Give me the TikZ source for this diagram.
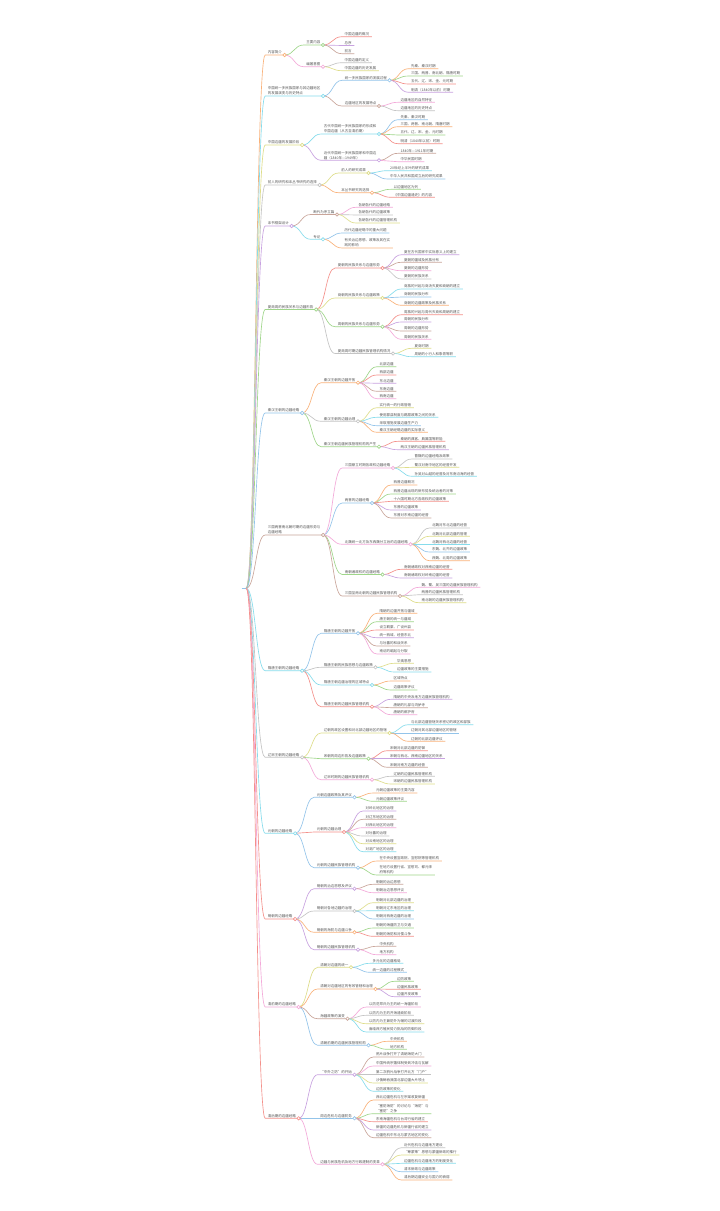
\documentclass[tikz,border=0pt]{standalone}
\usepackage{fontspec}
\newfontfamily\cjkf{Noto Sans CJK SC}
\definecolor{Cor}{HTML}{F9B27A}
\definecolor{Cgr}{HTML}{9FD68A}
\definecolor{Cre}{HTML}{F4908A}
\definecolor{Cpu}{HTML}{C8A2E0}
\definecolor{Cbr}{HTML}{C9A59A}
\definecolor{Cpi}{HTML}{F3A9D9}
\definecolor{Cgy}{HTML}{C4C4C4}
\definecolor{Cye}{HTML}{DEDD8A}
\definecolor{Ccy}{HTML}{86DCEC}
\definecolor{Cbl}{HTML}{93C4EA}
\definecolor{txt}{HTML}{555555}
\tikzset{
  mmn/.style={anchor=south west, inner xsep=2.5pt, inner ysep=0.7pt,
    font=\cjkf\fontsize{3.5pt}{5pt}\selectfont, text=txt, align=left},
  mme/.style={line width=0.65pt},
}
\newcommand\mm[5]{%
  \expandafter\def\csname mmc#1\endcsname{#4}%
  \path (#2.south east) ++(19,0) coordinate (mmtmp);
  \node[mmn] (#1) at (mmtmp |- 0,#3) {#5};
  \draw[mme,#4] (#2.south east) .. controls +(9.5,0) and +(-9.5,0) .. (#1.south west) -- (#1.south east);
}
\newcommand\mmdot[1]{%
  \edef\mmtmpc{\csname mmc#1\endcsname}%
  \draw[mme,color=\mmtmpc,fill=white] (#1.south east) circle (1.7);
}
\begin{document}
\begin{tikzpicture}[x=1pt,y=-1pt]
\fill[white] (0,0) rectangle (720,1211);
\useasboundingbox (0,0) rectangle (720,1211);
\node[inner sep=0pt,minimum size=0pt] (root) at (246,588) {};
\coordinate (rootstub) at (241.5,588);
\draw[mme,Cbl] (rootstub) -- (root.center);
% Group 1
\mm{a}{root}{55}{Cor}{内容简介}
\mm{a1}{a}{45}{Cgr}{主要内容}
\mm{a11}{a1}{36.7}{Cre}{中国边疆的概况}
\mm{a12}{a1}{45.5}{Cpu}{总序}
\mm{a13}{a1}{53.7}{Cbr}{前言}
\mm{a2}{a}{66.7}{Cpi}{编著意图}
\mm{a21}{a2}{62.7}{Cgy}{中国边疆的定义}
\mm{a22}{a2}{70.7}{Cye}{中国边疆的历史发展}
% Group 2
\mm{b}{root}{96}{Ccy}{中国统一多民族国家与其边疆地区\\的发展演变与历史特点}
\mm{b1}{b}{80.3}{Cbl}{统一多民族国家的发展过程}
\mm{b11}{b1}{68.7}{Cor}{先秦、秦汉时期}
\mm{b12}{b1}{76}{Cgr}{三国、两晋、南北朝、隋唐时期}
\mm{b13}{b1}{84}{Cre}{五代、辽、宋、金、元时期}
\mm{b14}{b1}{92.3}{Cpu}{明清（1840年以前）时期}
\mm{b2}{b}{106}{Cbr}{边疆地区的发展特点}
\mm{b21}{b2}{102.3}{Cpi}{边疆地区的自然特征}
\mm{b22}{b2}{110.7}{Cgy}{边疆地区的历史特点}
% Group 3
\mm{c}{root}{145}{Cye}{中国边疆的发展阶段}
\mm{c1}{c}{134}{Ccy}{古代中国统一多民族国家的形成和\\中国边疆（从古至清前期）}
\mm{c11}{c1}{119.7}{Cbl}{先秦、秦汉时期}
\mm{c12}{c1}{126.7}{Cor}{三国、两晋、南北朝、隋唐时期}
\mm{c13}{c1}{135}{Cgr}{五代、辽、宋、金、元时期}
\mm{c14}{c1}{143.7}{Cre}{明清（1840年以前）时期}
\mm{c2}{c}{160.3}{Cpu}{近代中国统一多民族国家和中国边\\疆（1840年—1949年）}
\mm{c21}{c2}{153.3}{Cbr}{1840年—1911年时期}
\mm{c22}{c2}{161.7}{Cpi}{中华民国时期}
% Group 4
\mm{d}{root}{185}{Cgy}{前人的研究和本丛书研究的选择}
\mm{d1}{d}{173}{Cye}{前人的研究成果}
\mm{d11}{d1}{170.7}{Ccy}{20世纪上半叶的研究成果}
\mm{d12}{d1}{179}{Cbl}{中华人民共和国成立后的研究成果}
\mm{d2}{d}{192.7}{Cor}{本丛书研究的选择}
\mm{d21}{d2}{189.3}{Cgr}{以边疆地区为列}
\mm{d22}{d2}{197.3}{Cre}{《中国边疆通史》的内容}
% Group 5
\mm{e}{root}{226}{Cpu}{本书框架设计}
\mm{e1}{e}{214.5}{Cbr}{断代为序立篇}
\mm{e11}{e1}{207.3}{Cpi}{各朝各代的边疆经略}
\mm{e12}{e1}{215}{Cgy}{各朝各代的边疆政策}
\mm{e13}{e1}{223}{Cye}{各朝各代的边疆管理机构}
\mm{e2}{e}{239.3}{Ccy}{专论}
\mm{e21}{e2}{233}{Cbl}{历代边疆经略中的重大问题}
\mm{e22}{e2}{248}{Cor}{有关治边思想、政策及其在实\\践的影响}
% Group 6
\mm{f}{root}{309.5}{Cgr}{夏商周的民族关系与边疆形势}
\mm{f1}{f}{268}{Cre}{夏朝的民族关系与边疆形势}
\mm{f11}{f1}{254.7}{Cpu}{夏在古代国家中实际意义上的建立}
\mm{f12}{f1}{262.3}{Cbr}{夏朝的疆域及民族分布}
\mm{f13}{f1}{270.7}{Cpi}{夏朝的边疆形势}
\mm{f14}{f1}{279}{Cgy}{夏朝的民族关系}
\mm{f2}{f}{298}{Cye}{商朝的民族关系与边疆政策}
\mm{f21}{f2}{289}{Ccy}{商族的兴起与商汤灭夏和商朝的建立}
\mm{f22}{f2}{297}{Cbl}{商朝的民族分布}
\mm{f23}{f2}{305.3}{Cor}{商朝的边疆政策及民族关系}
\mm{f3}{f}{326.7}{Cgr}{周朝的民族关系与边疆形势}
\mm{f31}{f3}{314.7}{Cre}{周族的兴起与周代灭商和周朝的建立}
\mm{f32}{f3}{322}{Cpu}{周朝的民族分布}
\mm{f33}{f3}{331}{Cbr}{周朝的边疆形势}
\mm{f34}{f3}{339.3}{Cpi}{周朝的民族关系}
\mm{f4}{f}{353.5}{Cgy}{夏商周时期边疆民族管理机构情况}
\mm{f41}{f4}{348.3}{Cye}{夏商时期}
\mm{f42}{f4}{356.7}{Ccy}{周朝的小行人和象胥等职}
% Group 7
\mm{g}{root}{413}{Cbl}{秦汉王朝的边疆经略}
\mm{g1}{g}{382.7}{Cor}{秦汉王朝的边疆开拓}
\mm{g11}{g1}{366.7}{Cgr}{北部边疆}
\mm{g12}{g1}{375}{Cre}{西部边疆}
\mm{g13}{g1}{383.3}{Cpu}{东北边疆}
\mm{g14}{g1}{391.3}{Cbr}{东南边疆}
\mm{g15}{g1}{398.7}{Cpi}{西南边疆}
\mm{g2}{g}{421.3}{Cgy}{秦汉王朝的边疆治理}
\mm{g21}{g2}{407.7}{Cye}{实行统一的行政管辖}
\mm{g22}{g2}{417.3}{Ccy}{使用郡县制度与羁縻政策之间的关系}
\mm{g23}{g2}{425.7}{Cbl}{采取措施发展边疆生产力}
\mm{g24}{g2}{432.3}{Cor}{秦汉王朝经略边疆的实际意义}
\mm{g3}{g}{446.7}{Cgr}{秦汉王朝边疆民族管理机构的产生}
\mm{g31}{g3}{441.3}{Cre}{秦朝的典客、典属国等职能}
\mm{g32}{g3}{449.7}{Cpu}{两汉王朝的边疆民族管理机构}
% Group 8
\mm{h}{root}{535}{Cbr}{三国两晋南北朝时期的边疆形势与\\边疆经略}
\mm{h1}{h}{468}{Cpi}{三国鼎立时期各政权边疆经略}
\mm{h11}{h1}{459}{Cgy}{曹魏的边疆经略及政策}
\mm{h12}{h1}{467.3}{Cye}{蜀汉对南中地区的经营开发}
\mm{h13}{h1}{476.3}{Ccy}{孙吴对山越的经营及对东南沿海的经营}
\mm{h2}{h}{503}{Cbl}{两晋的边疆经略}
\mm{h21}{h2}{485}{Cor}{西晋边疆概况}
\mm{h22}{h2}{494}{Cgr}{西晋边疆出现的新形势及统治者的对策}
\mm{h23}{h2}{501.3}{Cre}{十六国时期北方各政权的边疆政策}
\mm{h24}{h2}{510}{Cpu}{东晋的边疆政策}
\mm{h25}{h2}{518}{Cbr}{东晋对东南边疆的经营}
\mm{h3}{h}{544.3}{Cpi}{北魏统一北方及东西魏分立后的边疆经略}
\mm{h31}{h3}{528}{Cgy}{北魏对东北边疆的经营}
\mm{h32}{h3}{536.3}{Cye}{北魏对北部边疆的管理}
\mm{h33}{h3}{544.3}{Ccy}{北魏对西北边疆的经营}
\mm{h34}{h3}{552}{Cbl}{东魏、北齐的边疆政策}
\mm{h35}{h3}{560.7}{Cor}{西魏、北周的边疆政策}
\mm{h4}{h}{574.5}{Cgr}{南朝诸政权的边疆经略}
\mm{h41}{h4}{569.3}{Cre}{南朝诸政权对西南边疆的经营}
\mm{h42}{h4}{578}{Cpu}{南朝诸政权对岭南边疆的经营}
\mm{h5}{h}{596}{Cbr}{三国至南北朝的边疆民族管理机构}
\mm{h51}{h5}{587.3}{Cpi}{魏、蜀、吴三国的边疆民族管理机构}
\mm{h52}{h5}{594.7}{Cgy}{两晋的边疆民族管理机构}
\mm{h53}{h5}{602.7}{Cye}{南北朝的边疆民族管理机构}
% Group 9
\mm{i}{root}{670.7}{Ccy}{隋唐王朝的边疆经略}
\mm{i1}{i}{633.3}{Cbl}{隋唐王朝的边疆开拓}
\mm{i11}{i1}{613.3}{Cor}{隋朝的边疆开拓与疆域}
\mm{i12}{i1}{621.7}{Cgr}{唐王朝的统一与疆域}
\mm{i13}{i1}{630}{Cre}{设立羁縻、广设州县}
\mm{i14}{i1}{637.7}{Cpu}{统一西域、经营东北}
\mm{i15}{i1}{646}{Cbr}{与吐蕃的和战关系}
\mm{i16}{i1}{654}{Cpi}{南诏的崛起与分裂}
\mm{i2}{i}{667.3}{Cgy}{隋唐王朝的民族思想与边疆政策}
\mm{i21}{i2}{663.3}{Cye}{华夷思想}
\mm{i22}{i2}{672}{Ccy}{边疆政策的主要措施}
\mm{i3}{i}{685}{Ccy}{隋唐王朝边疆治理的区域特点}
\mm{i31}{i3}{681}{Cor}{区域特点}
\mm{i32}{i3}{690}{Cgr}{边疆政策评议}
\mm{i4}{i}{706.7}{Cre}{隋唐王朝的边疆民族管理机构}
\mm{i41}{i4}{699.3}{Cpu}{隋朝的中央及地方边疆民族管理机构}
\mm{i42}{i4}{707.7}{Cbr}{唐朝的礼部与鸿胪寺}
\mm{i43}{i4}{714.7}{Cpi}{唐朝的都护府}
% Group 10
\mm{j}{root}{757.3}{Cgy}{辽宋王朝的边疆经略}
\mm{j1}{j}{733}{Cye}{辽朝的政区设置和对北部边疆地区的管辖}
\mm{j11}{j1}{724.7}{Ccy}{与北部边疆管辖关系密切的政区和部族}
\mm{j12}{j1}{733}{Cbl}{辽朝对其北部边疆地区的管辖}
\mm{j13}{j1}{741.3}{Cor}{辽朝的北部边疆评议}
\mm{j2}{j}{758.7}{Cgr}{宋朝的周边形势及边疆政策}
\mm{j21}{j2}{750.7}{Cre}{宋朝对北部边疆的防御}
\mm{j22}{j2}{758.7}{Cpu}{宋朝与西北、西南边疆地区的关系}
\mm{j23}{j2}{767.3}{Cbr}{宋朝对南方边疆的经营}
\mm{j3}{j}{779.7}{Cpi}{辽宋时期的边疆民族管理机构}
\mm{j31}{j3}{776.3}{Cgy}{辽朝的边疆民族管理机构}
\mm{j32}{j3}{784}{Cye}{宋朝的边疆民族管理机构}
% Group 11
\mm{k}{root}{833.3}{Ccy}{元朝的边疆经略}
\mm{k1}{k}{797.3}{Cbl}{元朝边疆政策及其评议}
\mm{k11}{k1}{793}{Cor}{元朝边疆政策的主要内容}
\mm{k12}{k1}{801.3}{Cgr}{元朝边疆政策评议}
\mm{k2}{k}{832}{Cre}{元朝的边疆治理}
\mm{k21}{k2}{811}{Cpu}{对岭北地区的治理}
\mm{k22}{k2}{819.3}{Cbr}{对辽东地区的治理}
\mm{k23}{k2}{827.7}{Cpi}{对西北地区的治理}
\mm{k24}{k2}{836}{Cgy}{对吐蕃的治理}
\mm{k25}{k2}{843.7}{Cye}{对云南地区的治理}
\mm{k26}{k2}{851.7}{Ccy}{对湖广地区的治理}
\mm{k3}{k}{867.7}{Cbl}{元朝的边疆民族管理机构}
\mm{k31}{k3}{861}{Cor}{在中央设置宣政院、宣慰院等管理机构}
\mm{k32}{k3}{875}{Cgr}{在地方设置行省、宣慰司、都元帅\\府等机构}
% Group 12
\mm{l}{root}{919}{Cre}{明朝的边疆经略}
\mm{l1}{l}{888.7}{Cpu}{明朝的治边思想及评议}
\mm{l11}{l1}{884.3}{Cbr}{明朝的治边思想}
\mm{l12}{l1}{892.7}{Cpi}{明朝治边思想评议}
\mm{l2}{l}{911}{Cgy}{明朝对各地边疆的治理}
\mm{l21}{l2}{902.7}{Cye}{明朝对北部边疆的治理}
\mm{l22}{l2}{910.7}{Ccy}{明朝对辽东地区的治理}
\mm{l23}{l2}{919}{Cbl}{明朝对西南边疆的治理}
\mm{l3}{l}{932.3}{Cor}{明朝的海防与边疆斗争}
\mm{l31}{l3}{928}{Cgr}{明朝的海疆防卫与交通}
\mm{l32}{l3}{936.3}{Cre}{明朝的海防和对倭斗争}
\mm{l4}{l}{949.7}{Cpu}{明朝的边疆民族管理机构}
\mm{l41}{l4}{946.3}{Cbr}{中央机构}
\mm{l42}{l4}{954.7}{Cpi}{地方机构}
% Group 13
\mm{m}{root}{1007}{Cpi}{清前期的边疆经略}
\mm{m1}{m}{967.3}{Cye}{清朝对边疆的统一}
\mm{m11}{m1}{963.3}{Ccy}{多元化的边疆格局}
\mm{m12}{m1}{972.3}{Cbl}{统一边疆的过程模式}
\mm{m2}{m}{989}{Cor}{清朝对边疆地区的有效管辖和治理}
\mm{m21}{m2}{981.3}{Cgr}{边防政策}
\mm{m22}{m2}{989.3}{Cre}{边疆民族政策}
\mm{m23}{m2}{996.7}{Cpu}{边疆开发政策}
\mm{m3}{m}{1018.7}{Cbr}{海疆政策的演变}
\mm{m31}{m3}{1007}{Cpi}{以防范郑氏为主的统一海疆阶段}
\mm{m32}{m3}{1015.3}{Cgy}{以防内为主的开海通商阶段}
\mm{m33}{m3}{1023.7}{Cye}{以防内为主兼防外为辅的过渡阶段}
\mm{m34}{m3}{1032}{Ccy}{面临西方殖民势力挑战的防御阶段}
\mm{m4}{m}{1045.3}{Cbl}{清朝前期的边疆民族管理机构}
\mm{m41}{m4}{1041.3}{Cor}{中央机构}
\mm{m42}{m4}{1049.3}{Cgr}{地方机构}
% Group 14
\mm{n}{root}{1118.3}{Cre}{清后期的边疆经略}
\mm{n1}{n}{1074.7}{Cpu}{“中外之防”的开始}
\mm{n11}{n1}{1057}{Cbr}{鸦片战争打开了清朝海防大门}
\mm{n12}{n1}{1066}{Cpi}{中国传统宗藩体制受到冲击与瓦解}
\mm{n13}{n1}{1074.7}{Cgy}{第二次鸦片战争打开北方“门户”}
\mm{n14}{n1}{1083}{Cye}{沙俄鲸吞我国北部边疆大片领土}
\mm{n15}{n1}{1091.3}{Ccy}{边防政策的变化}
\mm{n2}{n}{1118.3}{Cbl}{周边危机与边疆防务}
\mm{n21}{n2}{1100}{Cor}{西北边疆危机与左宗棠收复新疆}
\mm{n22}{n2}{1113.7}{Cgr}{“塞防海防”的讨论与“海防”与\\“塞防”之争}
\mm{n23}{n2}{1121.7}{Cre}{东南海疆危机与台湾行省的建立}
\mm{n24}{n2}{1130}{Cpu}{新疆的边疆危机与新疆行省的建立}
\mm{n25}{n2}{1137.7}{Cbr}{边疆危机中东北与蒙古地区的变化}
\mm{n3}{n}{1164.3}{Cpi}{边疆与民族危机及地方行政建制的变革}
\mm{n31}{n3}{1147.7}{Cgy}{近代危机与边疆地方建设}
\mm{n32}{n3}{1155}{Cye}{“筹蒙策”思想与蒙疆新政的推行}
\mm{n33}{n3}{1163.3}{Ccy}{边疆危机与边疆地方的制度变化}
\mm{n34}{n3}{1171.7}{Cbl}{清末新政与边疆政策}
\mm{n35}{n3}{1180}{Cor}{清后期边疆安全与国力的衰弱}
% dots
\foreach \p in {a,a1,a2,b,b1,b2,c,c1,c2,d,d1,d2,e,e1,e2,f,f1,f2,f3,f4,g,g1,g2,g3,h,h1,h2,h3,h4,h5,i,i1,i2,i3,i4,j,j1,j2,j3,k,k1,k2,k3,l,l1,l2,l3,l4,m,m1,m2,m3,m4,n,n1,n2,n3} {\mmdot{\p}}
\end{tikzpicture}
\end{document}
